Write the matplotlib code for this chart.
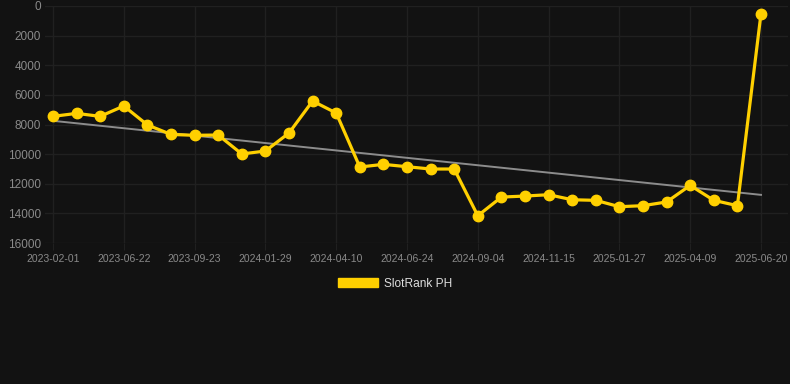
import numpy as np
import matplotlib
matplotlib.use("Agg")
import matplotlib.pyplot as plt
from matplotlib.patches import Patch

# rank per snapshot (31 snapshots, every 3rd date is labelled)
ranks = [7450, 7250, 7450, 6750, 8030, 8670, 8730, 8710, 9990, 9790,
         8575, 6415, 7225, 10870, 10690, 10850, 11005, 11005, 14160, 12900,
         12830, 12740, 13080, 13120, 13550, 13480, 13230, 12110, 13120, 13480,
         520]
date_labels = ["2023-02-01", "2023-06-22", "2023-09-23", "2024-01-29", "2024-04-10",
               "2024-06-24", "2024-09-04", "2024-11-15", "2025-01-27", "2025-04-09",
               "2025-06-20"]
series_name = "SlotRank PH"

bg = "#121212"
gold = "#FFD000"
grid_c = "#202020"
tick_c = "#8a8a8a"

plt.rcParams['font.family'] = ['Liberation Sans', 'DejaVu Sans']

fig = plt.figure(figsize=(7.9, 3.84), dpi=100, facecolor=bg)
ax = fig.add_axes([45 / 790, 1 - 243 / 384, 743 / 790, 237 / 384])
ax.set_facecolor(bg)

x = np.arange(len(ranks))
y = np.array(ranks, dtype=float)

# linear trend
k, b = np.polyfit(x, y, 1)
ax.plot(x, k * x + b, color="#8c8c8c", lw=1.4, zorder=2)

ax.plot(x, y, color=gold, lw=2.3, marker="o", ms=7.5, mec=gold, mfc=gold,
        zorder=3, clip_on=False)

px_per_unit = (761 - 53) / 30
ax.set_xlim(-(53 - 45) / px_per_unit, 30 + (788 - 761) / px_per_unit)
ax.set_ylim(16000, 0)

ax.set_xticks(x[::3])
ax.set_xticklabels(date_labels)
ax.set_yticks(np.arange(0, 16001, 2000))
ax.set_yticklabels([str(v) for v in range(0, 16001, 2000)])

ax.grid(True, color=grid_c, lw=1)
for s in ax.spines.values():
    s.set_visible(False)
ax.tick_params(axis="x", colors=grid_c, labelcolor=tick_c, labelsize=7.5,
               length=5, pad=3)
ax.tick_params(axis="y", length=0, labelcolor=tick_c, labelsize=8.5, pad=3)

fig.legend(handles=[Patch(facecolor=gold, edgecolor=gold, label=series_name)],
           loc="center", bbox_to_anchor=(0.5, 1 - 284 / 384), frameon=False,
           fontsize=8.6, labelcolor="#dddddd", handlelength=3.3, handleheight=0.8,
           handletextpad=0.5)

fig.savefig("out.png", dpi=100, facecolor=bg)
